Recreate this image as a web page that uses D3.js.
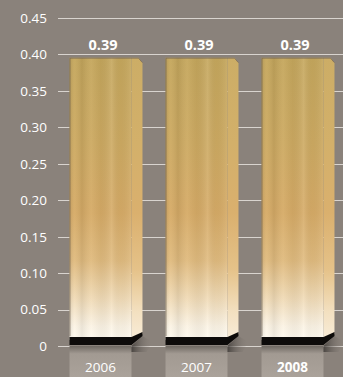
<!DOCTYPE html>
<html>
<head>
<meta charset="utf-8">
<script src="https://cdn.jsdelivr.net/npm/d3@7/dist/d3.min.js"></script>
<style>
  html, body { margin: 0; padding: 0; background: #8a827b; }
  svg { display: block; font-family: "Open Sans", "Noto Sans", sans-serif; }
</style>
</head>
<body>
<svg id="chart" width="343" height="377"></svg>
<script>
// Chart data
const years = ["2006", "2007", "2008"];
const values = [0.39, 0.39, 0.39];
const yTicks = [0, 0.05, 0.10, 0.15, 0.20, 0.25, 0.30, 0.35, 0.40, 0.45];
const boldYear = "2008";

const W = 343, H = 377;
const svg = d3.select("#chart");

const x = d3.scaleBand().domain(years).range([58, 346]).paddingInner(0.24).paddingOuter(0.12);
const y = d3.scaleLinear().domain([0, 0.45]).range([346, 18]);

const defs = svg.append("defs");

// vertical tone of the bar front: olive gold at top, warm amber mid, cream near the base
const gFront = defs.append("linearGradient").attr("id", "front").attr("x1", 0).attr("y1", 0).attr("x2", 0).attr("y2", 1);
[[0, "#c5a75d"], [0.3, "#cdaa62"], [0.55, "#d6ab67"], [0.72, "#e0bb7f"], [0.85, "#f0dab5"], [0.95, "#fbf3e4"], [1, "#fffaf0"]]
  .forEach(([o, c]) => gFront.append("stop").attr("offset", o).attr("stop-color", c));

// soft vertical streaks across the front face
const gStreak = defs.append("linearGradient").attr("id", "streak").attr("x1", 0).attr("y1", 0).attr("x2", 1).attr("y2", 0);
[[0, "#000", 0.1], [0.08, "#fff", 0.04], [0.2, "#000", 0.07], [0.35, "#fff", 0.05], [0.5, "#000", 0.04],
 [0.68, "#fff", 0.1], [0.82, "#000", 0.03], [1, "#fff", 0.08]]
  .forEach(([o, c, a]) => gStreak.append("stop").attr("offset", o).attr("stop-color", c).attr("stop-opacity", a));

const gSide = defs.append("linearGradient").attr("id", "side").attr("x1", 0).attr("y1", 0).attr("x2", 0).attr("y2", 1);
[[0, "#ccad66"], [0.3, "#d3b06a"], [0.55, "#dab06e"], [0.75, "#e5c289"], [0.9, "#f3e0c0"], [1, "#f8ecd8"]]
  .forEach(([o, c]) => gSide.append("stop").attr("offset", o).attr("stop-color", c));

// reflection under the baseline
const gRefl = defs.append("linearGradient").attr("id", "refl").attr("x1", 0).attr("y1", 0).attr("x2", 0).attr("y2", 1);
[[0, "#6e6862"], [0.25, "#a29a92"], [1, "#aaa29a"]]
  .forEach(([o, c]) => gRefl.append("stop").attr("offset", o).attr("stop-color", c));

const gShadow = defs.append("linearGradient").attr("id", "shadow").attr("x1", 0).attr("y1", 0).attr("x2", 1).attr("y2", 0);
[[0, "#3a3633", 0.8], [1, "#8a827b", 0]]
  .forEach(([o, c, a]) => gShadow.append("stop").attr("offset", o).attr("stop-color", c).attr("stop-opacity", a));

// gridlines and y-axis labels
const grid = svg.append("g");
grid.selectAll("line").data(yTicks).join("line")
  .attr("x1", 58).attr("x2", W)
  .attr("y1", d => Math.round(y(d)) + 0.5).attr("y2", d => Math.round(y(d)) + 0.5)
  .attr("stroke", "#d9d4cf").attr("stroke-width", 1);
grid.selectAll("text").data(yTicks).join("text")
  .attr("x", 47).attr("y", d => y(d)).attr("dy", "0.36em")
  .attr("text-anchor", "end").attr("fill", "#fff").attr("font-size", 13.5)
  .text(d => d === 0 ? "0" : d.toFixed(2));

const side = 11;     // depth of the right face
const base = 10;     // height of the dark plinth

const bars = svg.append("g").selectAll("g").data(years.map((yr, i) => ({ yr, v: values[i] }))).join("g");

// reflection panel behind the year label
bars.append("rect")
  .attr("x", d => x(d.yr)).attr("y", y(0))
  .attr("width", x.bandwidth() - side).attr("height", H - y(0))
  .attr("fill", "url(#refl)");

// cast shadow to the right of the plinth
bars.append("path")
  .attr("d", d => {
    const r = x(d.yr) + x.bandwidth();
    const b = y(0);
    return `M${r - side},${b} L${r},${b - base} L${r + 10},${b - 4} L${r + 4},${b + 6} L${r - side},${b + 6}Z`;
  })
  .attr("fill", "url(#shadow)");

// right face
bars.append("path")
  .attr("d", d => {
    const l = x(d.yr) + x.bandwidth() - side, r = l + side;
    const t = y(d.v) - 4, b = y(0) - base;
    return `M${l},${t} L${r - 4},${t} L${r},${t + 5} L${r},${b - 2} L${l},${b + 4}Z`;
  })
  .attr("fill", "url(#side)");

// front face
bars.append("rect")
  .attr("x", d => x(d.yr)).attr("y", d => y(d.v) - 4)
  .attr("width", x.bandwidth() - side).attr("height", d => y(0) - base - (y(d.v) - 4) + 4)
  .attr("fill", "url(#front)");
bars.append("rect")
  .attr("x", d => x(d.yr)).attr("y", d => y(d.v) - 4)
  .attr("width", x.bandwidth() - side).attr("height", d => y(0) - base - (y(d.v) - 4) + 4)
  .attr("fill", "url(#streak)");

// outline along the top and left edge
bars.append("path")
  .attr("d", d => {
    const l = x(d.yr), t = y(d.v) - 4, r = l + x.bandwidth();
    return `M${l + 0.5},${y(0) - base} L${l + 0.5},${t + 0.5} L${r - 4},${t + 0.5} L${r},${t + 5}`;
  })
  .attr("fill", "none").attr("stroke", "#6e6052").attr("stroke-width", 1).attr("opacity", 0.6);

// dark plinth with bevelled right end
bars.append("path")
  .attr("d", d => {
    const l = x(d.yr), f = l + x.bandwidth() - side, r = l + x.bandwidth();
    const b = y(0) - 1, t = b - base;
    return `M${l},${t + 2} L${f},${t + 2} L${r},${t - 3} L${r},${t + 1} L${f},${b} L${l},${b}Z`;
  })
  .attr("fill", "#0d0b0a");

// value labels
bars.append("text")
  .attr("x", d => x(d.yr) + x.bandwidth() / 2 - 3)
  .attr("y", d => y(d.v) - 12)
  .attr("text-anchor", "middle").attr("fill", "#fff")
  .attr("font-size", 14.5).attr("font-weight", "bold")
  .text(d => d.v.toFixed(2));

// year labels
bars.append("text")
  .attr("x", d => x(d.yr) + (x.bandwidth() - side) / 2)
  .attr("y", 372)
  .attr("text-anchor", "middle").attr("fill", "#fff")
  .attr("font-size", 13.5)
  .attr("font-weight", d => d.yr === boldYear ? "bold" : "normal")
  .text(d => d.yr);
</script>
</body>
</html>
